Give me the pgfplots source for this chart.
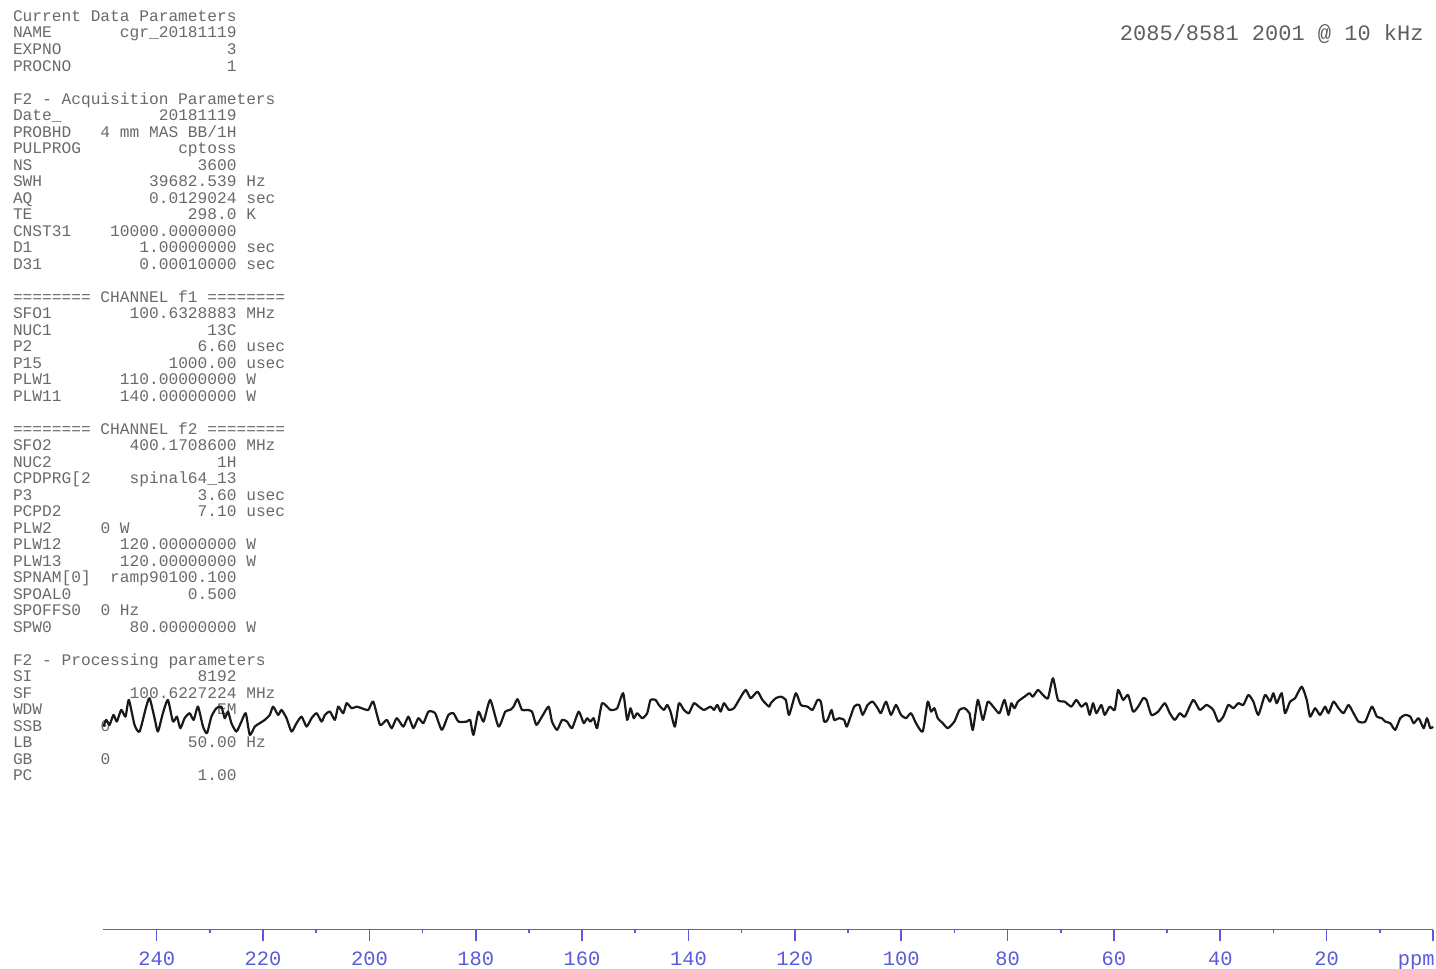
\documentclass[border=0pt]{standalone}
\usepackage{fontspec}
\usepackage{pgfplots}
\pgfplotsset{compat=1.18}
\newfontfamily\monof{Liberation Mono}
\definecolor{pgray}{RGB}{105,105,105}
\definecolor{tgray}{RGB}{95,95,95}
\definecolor{nmrblue}{RGB}{90,90,218}
\newcommand\pfont{\fontsize{8.1pt}{8.25pt}\selectfont\monof}
\newcommand\tfont{\fontsize{10.2pt}{12pt}\selectfont\monof}
\newcommand\ttfont{\fontsize{11pt}{13pt}\selectfont\monof}
\tikzset{P/.style={anchor=base west,inner sep=0pt,outer sep=0pt,font=\pfont,text=pgray},
 PR/.style={P,anchor=base east}}
\newcommand\PL[2]{\node[P] at (13,{21.5+16.5*#1}) {#2};}
\newcommand\PV[4]{\node[P] at (13,{21.5+16.5*#1}) {#2};\node[PR] at (236.6,{21.5+16.5*#1}) {#3};\node[P] at (246.3,{21.5+16.5*#1}) {#4};}
\newcommand\PC[3]{\node[P] at (13,{21.5+16.5*#1}) {#2};\node[P] at (100.5,{21.5+16.5*#1}) {#3};}
\begin{document}
\begin{tikzpicture}
\useasboundingbox (0pt,0pt) rectangle (718pt,-484.5pt);
\begin{scope}[x=0.5pt,y=-0.5pt]
\PL{0}{Current Data Parameters}
\PV{1}{NAME}{cgr\_20181119}{}
\PV{2}{EXPNO}{3}{}
\PV{3}{PROCNO}{1}{}
\PL{5}{F2 - Acquisition Parameters}
\PV{6}{Date\_}{20181119}{}
\PV{7}{PROBHD}{4 mm MAS BB/1H}{}
\PV{8}{PULPROG}{cptoss}{}
\PV{9}{NS}{3600}{}
\PV{10}{SWH}{39682.539}{Hz}
\PV{11}{AQ}{0.0129024}{sec}
\PV{12}{TE}{298.0}{K}
\PV{13}{CNST31}{10000.0000000}{}
\PV{14}{D1}{1.00000000}{sec}
\PV{15}{D31}{0.00010000}{sec}
\PL{17}{======== CHANNEL f1 ========}
\PV{18}{SFO1}{100.6328883}{MHz}
\PV{19}{NUC1}{13C}{}
\PV{20}{P2}{6.60}{usec}
\PV{21}{P15}{1000.00}{usec}
\PV{22}{PLW1}{110.00000000}{W}
\PV{23}{PLW11}{140.00000000}{W}
\PL{25}{======== CHANNEL f2 ========}
\PV{26}{SFO2}{400.1708600}{MHz}
\PV{27}{NUC2}{1H}{}
\PV{28}{CPDPRG[2}{spinal64\_13}{}
\PV{29}{P3}{3.60}{usec}
\PV{30}{PCPD2}{7.10}{usec}
\PC{31}{PLW2}{0 W}
\PV{32}{PLW12}{120.00000000}{W}
\PV{33}{PLW13}{120.00000000}{W}
\PV{34}{SPNAM[0]}{ramp90100.100}{}
\PV{35}{SPOAL0}{0.500}{}
\PC{36}{SPOFFS0}{0 Hz}
\PV{37}{SPW0}{80.00000000}{W}
\PL{39}{F2 - Processing parameters}
\PV{40}{SI}{8192}{}
\PV{41}{SF}{100.6227224}{MHz}
\PV{42}{WDW}{EM}{}
\PC{43}{SSB}{0}
\PV{44}{LB}{50.00}{Hz}
\PC{45}{GB}{0}
\PV{46}{PC}{1.00}{}
\node[anchor=base east,inner sep=0pt,font=\ttfont,text=tgray] at (1424,40) {2085/8581 2001 @ 10 kHz};
\end{scope}
\begin{axis}[
 at={(51.75pt,-464.75pt)}, anchor=south west, scale only axis,
 width=664.75pt, height=134.75pt,
 xmin=0, xmax=250, ymin=-210, ymax=60, x dir=reverse,
 axis x line=bottom, axis y line=none,
 x axis line style={-, draw=nmrblue, line width=0.9pt},
 xtick={20,40,...,240}, minor xtick={10,30,...,230},
 extra x ticks={0}, extra x tick labels={},
 xtick align=outside, major tick length=5.5pt, minor tick length=1.6pt,
 tick style={draw=nmrblue, line width=0.8pt},
 xticklabel style={font=\tfont, text=nmrblue, anchor=base, yshift=-12.25pt},
 /pgf/number format/assume math mode=true,
 clip=false,
]
\addplot[black!90, line width=1.1pt, line join=round, smooth, tension=0.35] coordinates {
(250.00,-6.7) (249.49,0) (248.87,-5) (248.12,5) (247.49,-1.7) (246.67,10) (245.86,3.3) (245.23,20) (244.16,-5) (243.22,-11.7) (241.96,13.3) (241.33,21.7) (240.39,1.7) (239.77,-11.7) (238.83,6.7) (237.89,20) (236.94,-1.7) (236.19,3.3) (235.55,-8.3) (234.74,1.7) (233.80,6.7) (233.04,0) (232.23,13.3) (231.29,-6.7) (230.54,-13.3) (229.71,3.3) (228.77,11.7) (227.83,13.3) (227.20,1.7) (226.58,8.3) (225.94,-3.3) (225.00,-11.7) (224.06,-1.7) (223.25,6.7) (222.49,-15) (221.55,-6.7) (220.61,-3.3) (219.67,0) (218.73,5) (218.10,13.3) (217.16,5) (216.52,10) (215.58,1.7) (214.64,-11.7) (213.70,-3.3) (212.75,3.3) (211.81,-6.7) (210.87,1.7) (209.93,6.7) (208.99,-1.7) (208.36,5) (207.42,8.3) (206.48,0) (205.86,13.3) (204.92,6.7) (204.28,16.7) (203.33,11.7) (202.39,13.3) (201.45,11.7) (200.21,10) (199.27,18.3) (198.00,-5) (196.74,0) (195.80,-8.3) (194.86,1.7) (193.61,-6.7) (192.67,3.3) (191.73,-8.3) (190.79,1.7) (189.85,-3.3) (188.90,8.3)
(187.64,6.7) (186.38,-10) (185.14,5) (184.19,6.7) (183.25,-1.7) (181.67,-1.7) (181.05,0) (180.43,-15) (179.48,8.3) (178.54,-1.7) (177.28,20) (175.72,-6.7) (174.45,8.3) (173.51,10) (172.89,13.3) (172.14,20.7) (171.31,10) (170.37,10) (169.42,8.3) (168.61,-5) (167.54,3.3) (166.30,13.3) (165.66,-1.7) (164.71,-10) (163.77,0) (162.83,-1.7) (161.89,-8.3) (160.64,8.3) (159.70,-3.3) (159.06,1.7) (158.44,-1.7) (157.82,1.7) (157.18,-8.3) (156.24,16.7) (154.67,10) (153.41,11.7) (152.28,26.7) (151.53,0) (150.90,11.7) (150.28,1.7) (149.64,6.7) (148.70,1.7) (147.76,6.7) (147.14,20) (146.19,20) (145.57,15) (144.63,10) (143.99,15) (143.37,8.3) (142.56,-6.7) (141.80,16.7) (140.86,10) (139.92,6.7) (138.98,16.7) (138.04,13.3) (137.09,10) (135.83,13.3) (135.21,10) (134.57,15) (133.95,8.3) (133.33,16.7) (132.39,10) (131.44,11.7) (130.50,20) (129.24,30) (128.30,21.7) (127.03,28.3) (126.09,20) (124.85,13.3)
(124.53,16.7) (123.59,21.7) (122.65,23.3) (121.70,20) (121.08,5) (119.82,26.7) (118.88,15) (117.62,13.3) (116.67,10) (115.73,20) (115.11,18.3) (114.49,-1.7) (113.85,0) (113.09,10) (112.60,0) (111.66,1.7) (110.72,0) (110.21,-6.7) (108.84,13.3) (107.89,15) (107.25,5) (106.31,15) (105.37,18.3) (104.43,11.7) (103.81,6.7) (102.86,18.3) (101.92,5) (100.98,15) (100.04,5) (99.10,1.7) (98.15,6.7) (97.21,-3.3) (95.95,-11.7) (95.01,18.3) (94.39,8.3) (93.76,11.7) (93.12,1.7) (92.18,-3.3) (91.24,-8.3) (90.00,-1.7) (89.05,10) (88.11,11.7) (87.17,6.7) (86.53,-10) (85.59,20) (84.64,0) (83.70,18.3) (82.46,11.7) (81.52,6.7) (80.58,20) (79.82,5) (79.31,16.7) (78.69,11.7) (78.05,18.3) (76.81,23.3) (75.87,26.7) (75.23,23.3) (74.28,30) (73.34,25) (72.40,21.7) (71.46,41.7) (70.52,20) (69.27,18.3) (68.01,13.3) (67.07,20) (66.13,13.3) (65.18,16.7) (64.56,5) (63.92,16.7) (63.30,6.7) (62.36,15)
(61.74,5) (60.79,13.3) (59.85,10) (59.21,30) (58.27,20) (57.33,25) (56.39,8.3) (55.44,13.3) (54.50,21.7) (53.88,20) (52.94,5) (51.68,8.3) (50.43,16.7) (49.49,6.7) (48.55,0) (47.61,6.7) (46.66,3.3) (45.08,20) (43.84,10) (42.58,15) (41.31,10) (40.37,-1.7) (39.43,3.3) (38.49,15) (37.55,11.7) (36.60,16.7) (35.66,15) (34.72,25) (33.78,18.3) (32.84,5) (31.59,25) (30.65,18.3) (30.01,26.7) (29.39,16.7) (28.45,26.7) (27.82,6.7) (26.88,18.3) (25.94,21.7) (24.68,33.3) (23.74,20) (23.11,3.3) (22.17,11.7) (21.23,5) (20.29,13.3) (19.65,6.7) (18.71,18.3) (17.76,11.7) (16.82,6.7) (15.88,15) (14.94,6.7) (14.00,-1.7) (12.75,-1.7) (11.49,13.3) (10.55,3.3) (9.61,1.7) (8.98,-1.7) (8.04,-3.3) (7.10,-10) (6.16,1.7) (5.22,5) (4.27,3.3) (3.63,-3.3) (2.69,1.7) (1.75,-8.3) (1.13,1.7) (0.51,-8.3) (0.00,-6.7)
};
\node[anchor=base east, inner sep=0pt, font=\tfont, text=nmrblue] at (rel axis cs:1,0) [yshift=-17.75pt, xshift=1pt] {ppm};
\end{axis}
\end{tikzpicture}
\end{document}
